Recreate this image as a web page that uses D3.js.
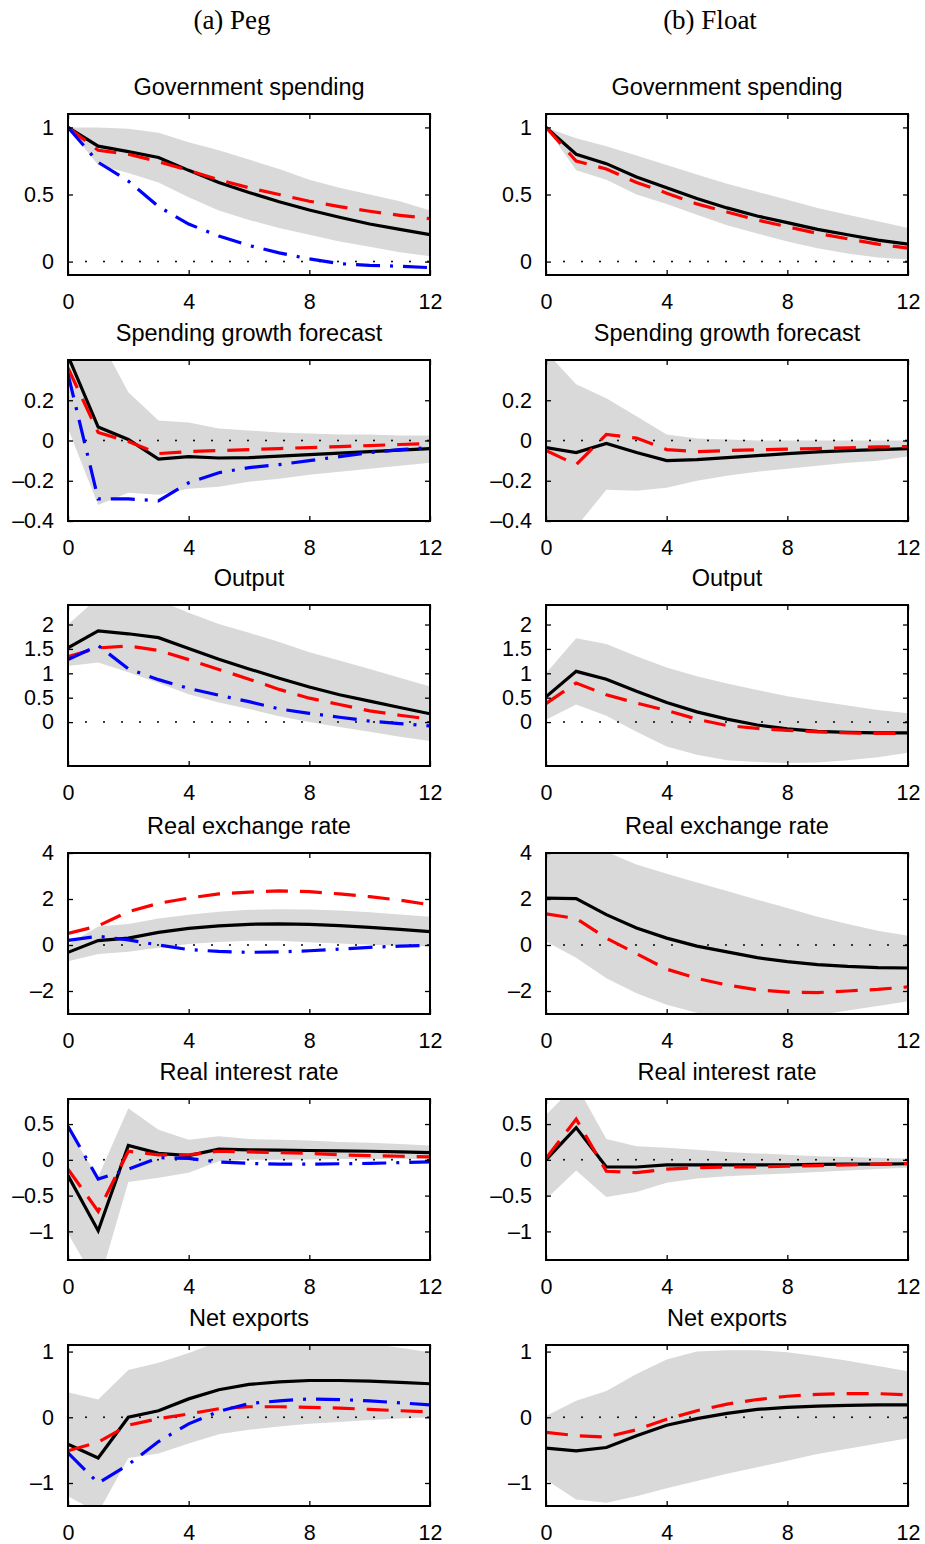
<!DOCTYPE html>
<html>
<head>
<meta charset="utf-8">
<script src="https://cdn.jsdelivr.net/npm/d3@7"></script>
<style>
  body { margin: 0; background: #fff; }
  svg text { font-family: "Liberation Sans", Arial, Helvetica, sans-serif; fill: #000; }
  .col-head { font-family: "Liberation Serif", "Times New Roman", serif; font-size: 27px; }
</style>
</head>
<body>
<svg id="chart" width="925" height="1544"></svg>
<script>
// quarters after the shock
const HORIZON = [0, 1, 2, 3, 4, 5, 6, 7, 8, 9, 10, 11, 12];
const X_TICKS = [0, 4, 8, 12];
const COLUMNS = ["(a) Peg", "(b) Float"];
const TITLES = ["Government spending", "Spending growth forecast", "Output",
  "Real exchange rate", "Real interest rate", "Net exports"];
const Y_TICKS = [[0, 0.5, 1], [-0.4, -0.2, 0, 0.2], [0, 0.5, 1, 1.5, 2],
  [-2, 0, 2, 4], [-1, -0.5, 0, 0.5], [-1, 0, 1]];
const Y_DOMAINS = [[-0.1, 1.1], [-0.4, 0.4], [-0.9, 2.4], [-3, 4], [-1.4, 0.85], [-1.35, 1.1]];

// Government spending
const govPegSolid   = [1.0, 0.86, 0.82, 0.776, 0.68, 0.59, 0.515, 0.446, 0.384, 0.33, 0.28, 0.24, 0.20];
const govPegDashed  = [1.0, 0.83, 0.80, 0.745, 0.68, 0.61, 0.55, 0.50, 0.45, 0.41, 0.375, 0.345, 0.32];
const govPegDashDot = [1.0, 0.74, 0.60, 0.41, 0.28, 0.19, 0.12, 0.065, 0.02, -0.015, -0.028, -0.035, -0.045];
const govPegLower   = [1.0, 0.72, 0.66, 0.59, 0.48, 0.38, 0.31, 0.25, 0.20, 0.15, 0.11, 0.07, 0.04];
const govPegUpper   = [1.0, 1.0, 0.99, 0.96, 0.89, 0.83, 0.76, 0.69, 0.61, 0.55, 0.50, 0.45, 0.38];
const govFloatSolid  = [1.0, 0.80, 0.73, 0.63, 0.55, 0.47, 0.40, 0.34, 0.29, 0.24, 0.20, 0.16, 0.13];
const govFloatDashed = [1.0, 0.75, 0.69, 0.59, 0.51, 0.43, 0.37, 0.31, 0.26, 0.21, 0.17, 0.13, 0.10];
const govFloatLower  = [1.0, 0.68, 0.61, 0.50, 0.43, 0.35, 0.27, 0.21, 0.15, 0.10, 0.06, 0.03, 0.015];
const govFloatUpper  = [1.0, 0.92, 0.86, 0.79, 0.72, 0.65, 0.58, 0.52, 0.46, 0.40, 0.35, 0.30, 0.25];

// Spending growth forecast
const sgfPegSolid   = [0.42, 0.067, 0.005, -0.092, -0.08, -0.087, -0.085, -0.078, -0.07, -0.063, -0.055, -0.048, -0.04];
const sgfPegDashed  = [0.36, 0.04, -0.005, -0.065, -0.055, -0.05, -0.045, -0.04, -0.035, -0.03, -0.025, -0.02, -0.015];
const sgfPegDashDot = [0.33, -0.29, -0.29, -0.30, -0.21, -0.16, -0.135, -0.12, -0.10, -0.08, -0.06, -0.045, -0.035];
const sgfPegLower   = [0.06, -0.32, -0.26, -0.27, -0.24, -0.23, -0.205, -0.19, -0.17, -0.155, -0.14, -0.125, -0.11];
const sgfPegUpper   = [0.6, 0.52, 0.24, 0.10, 0.09, 0.06, 0.05, 0.04, 0.035, 0.03, 0.03, 0.025, 0.025];
const sgfFloatSolid  = [-0.035, -0.06, -0.015, -0.06, -0.10, -0.095, -0.085, -0.075, -0.065, -0.057, -0.05, -0.045, -0.04];
const sgfFloatDashed = [-0.05, -0.12, 0.03, 0.012, -0.045, -0.055, -0.05, -0.046, -0.043, -0.04, -0.036, -0.032, -0.03];
const sgfFloatLower  = [-0.5, -0.43, -0.245, -0.25, -0.235, -0.2, -0.175, -0.155, -0.14, -0.125, -0.11, -0.1, -0.08];
const sgfFloatUpper  = [0.44, 0.28, 0.21, 0.12, 0.03, 0.01, 0.005, 0.0, 0.0, 0.0, 0.0, 0.0, 0.0];

// Output
const outPegSolid   = [1.52, 1.87, 1.81, 1.73, 1.51, 1.29, 1.09, 0.90, 0.72, 0.56, 0.43, 0.30, 0.17];
const outPegDashed  = [1.34, 1.52, 1.56, 1.47, 1.28, 1.08, 0.88, 0.67, 0.49, 0.36, 0.23, 0.14, 0.06];
const outPegDashDot = [1.28, 1.57, 1.09, 0.87, 0.69, 0.55, 0.42, 0.27, 0.18, 0.10, 0.02, -0.03, -0.08];
const outPegLower   = [1.15, 1.22, 1.02, 0.80, 0.57, 0.40, 0.27, 0.12, 0.0, -0.1, -0.2, -0.3, -0.39];
const outPegUpper   = [2.0, 2.55, 2.6, 2.5, 2.24, 2.01, 1.83, 1.64, 1.43, 1.26, 1.09, 0.91, 0.73];
const outFloatSolid  = [0.52, 1.04, 0.88, 0.63, 0.40, 0.21, 0.06, -0.06, -0.14, -0.19, -0.21, -0.22, -0.22];
const outFloatDashed = [0.38, 0.80, 0.56, 0.39, 0.24, 0.06, -0.07, -0.13, -0.17, -0.20, -0.22, -0.23, -0.23];
const outFloatLower  = [0.05, 0.36, 0.13, -0.2, -0.5, -0.67, -0.78, -0.82, -0.84, -0.83, -0.78, -0.72, -0.63];
const outFloatUpper  = [1.0, 1.72, 1.6, 1.35, 1.12, 0.94, 0.79, 0.66, 0.53, 0.43, 0.34, 0.25, 0.18];

// Real exchange rate
const rerPegSolid   = [-0.32, 0.19, 0.30, 0.55, 0.72, 0.83, 0.90, 0.92, 0.90, 0.84, 0.77, 0.68, 0.58];
const rerPegDashed  = [0.5, 0.83, 1.45, 1.81, 2.04, 2.22, 2.30, 2.35, 2.32, 2.22, 2.10, 1.95, 1.75];
const rerPegDashDot = [0.2, 0.38, 0.22, 0.0, -0.2, -0.28, -0.32, -0.30, -0.25, -0.18, -0.10, -0.05, -0.02];
const rerPegLower   = [-0.71, -0.39, -0.29, -0.12, 0.04, 0.13, 0.19, 0.19, 0.12, 0.06, 0.01, -0.03, -0.07];
const rerPegUpper   = [0.02, 0.8, 0.91, 1.15, 1.32, 1.45, 1.53, 1.55, 1.54, 1.5, 1.42, 1.33, 1.23];
const rerFloatSolid  = [2.04, 2.02, 1.32, 0.74, 0.30, -0.05, -0.30, -0.55, -0.72, -0.85, -0.93, -0.98, -1.0];
const rerFloatDashed = [1.35, 1.15, 0.30, -0.38, -1.05, -1.45, -1.74, -1.95, -2.05, -2.07, -2.0, -1.93, -1.82];
const rerFloatLower  = [0.15, -0.55, -1.45, -2.1, -2.6, -2.95, -3.1, -3.15, -3.15, -3.05, -2.85, -2.65, -2.45];
const rerFloatUpper  = [4.5, 4.4, 4.05, 3.5, 3.1, 2.72, 2.35, 1.97, 1.61, 1.23, 0.91, 0.62, 0.4];

// Real interest rate
const rirPegSolid   = [-0.22, -0.99, 0.20, 0.09, 0.06, 0.15, 0.14, 0.135, 0.13, 0.125, 0.12, 0.11, 0.10];
const rirPegDashed  = [-0.13, -0.72, 0.12, 0.07, 0.07, 0.12, 0.11, 0.10, 0.09, 0.07, 0.06, 0.05, 0.04];
const rirPegDashDot = [0.47, -0.27, -0.13, 0.03, 0.02, -0.03, -0.05, -0.06, -0.06, -0.055, -0.05, -0.04, -0.03];
const rirPegLower   = [-1.03, -1.76, -0.31, -0.25, -0.18, -0.02, 0.0, 0.0, 0.005, 0.01, 0.01, 0.01, 0.01];
const rirPegUpper   = [0.42, -0.24, 0.72, 0.42, 0.28, 0.33, 0.29, 0.28, 0.27, 0.25, 0.24, 0.22, 0.20];
const rirFloatSolid  = [0.0, 0.45, -0.10, -0.10, -0.07, -0.07, -0.07, -0.07, -0.07, -0.065, -0.06, -0.06, -0.055];
const rirFloatDashed = [0.02, 0.57, -0.16, -0.18, -0.13, -0.11, -0.10, -0.10, -0.09, -0.08, -0.07, -0.06, -0.05];
const rirFloatLower  = [-0.55, -0.15, -0.52, -0.45, -0.32, -0.26, -0.23, -0.21, -0.19, -0.17, -0.15, -0.13, -0.11];
const rirFloatUpper  = [0.63, 1.05, 0.29, 0.19, 0.17, 0.14, 0.11, 0.09, 0.07, 0.05, 0.04, 0.03, 0.02];

// Net exports
const nxPegSolid   = [-0.41, -0.62, 0.0, 0.10, 0.28, 0.42, 0.50, 0.54, 0.56, 0.56, 0.55, 0.53, 0.51];
const nxPegDashed  = [-0.51, -0.38, -0.12, -0.02, 0.05, 0.13, 0.16, 0.16, 0.15, 0.14, 0.12, 0.10, 0.08];
const nxPegDashDot = [-0.54, -1.0, -0.72, -0.37, -0.10, 0.09, 0.21, 0.25, 0.28, 0.27, 0.25, 0.22, 0.19];
const nxPegLower   = [-1.2, -1.45, -0.62, -0.55, -0.40, -0.26, -0.19, -0.14, -0.10, -0.07, -0.04, -0.02, 0.0];
const nxPegUpper   = [0.38, 0.27, 0.72, 0.83, 0.98, 1.15, 1.2, 1.2, 1.2, 1.17, 1.12, 1.06, 0.99];
const nxFloatSolid  = [-0.47, -0.51, -0.46, -0.28, -0.12, -0.02, 0.06, 0.12, 0.15, 0.17, 0.18, 0.19, 0.19];
const nxFloatDashed = [-0.23, -0.28, -0.30, -0.19, -0.03, 0.10, 0.20, 0.27, 0.32, 0.35, 0.36, 0.36, 0.34];
const nxFloatLower  = [-0.95, -1.25, -1.3, -1.2, -1.08, -0.97, -0.86, -0.76, -0.66, -0.56, -0.48, -0.40, -0.32];
const nxFloatUpper  = [0.02, 0.25, 0.40, 0.66, 0.88, 1.0, 1.02, 1.02, 0.99, 0.93, 0.86, 0.78, 0.70];

const ROWS = [
  [{ solid: govPegSolid, dashed: govPegDashed, dashDot: govPegDashDot, lower: govPegLower, upper: govPegUpper },
   { solid: govFloatSolid, dashed: govFloatDashed, lower: govFloatLower, upper: govFloatUpper }],
  [{ solid: sgfPegSolid, dashed: sgfPegDashed, dashDot: sgfPegDashDot, lower: sgfPegLower, upper: sgfPegUpper },
   { solid: sgfFloatSolid, dashed: sgfFloatDashed, lower: sgfFloatLower, upper: sgfFloatUpper }],
  [{ solid: outPegSolid, dashed: outPegDashed, dashDot: outPegDashDot, lower: outPegLower, upper: outPegUpper },
   { solid: outFloatSolid, dashed: outFloatDashed, lower: outFloatLower, upper: outFloatUpper }],
  [{ solid: rerPegSolid, dashed: rerPegDashed, dashDot: rerPegDashDot, lower: rerPegLower, upper: rerPegUpper },
   { solid: rerFloatSolid, dashed: rerFloatDashed, lower: rerFloatLower, upper: rerFloatUpper }],
  [{ solid: rirPegSolid, dashed: rirPegDashed, dashDot: rirPegDashDot, lower: rirPegLower, upper: rirPegUpper },
   { solid: rirFloatSolid, dashed: rirFloatDashed, lower: rirFloatLower, upper: rirFloatUpper }],
  [{ solid: nxPegSolid, dashed: nxPegDashed, dashDot: nxPegDashDot, lower: nxPegLower, upper: nxPegUpper },
   { solid: nxFloatSolid, dashed: nxFloatDashed, lower: nxFloatLower, upper: nxFloatUpper }]
];

// layout
const COL_LEFT = [68, 546];
const ROW_TOP = [114, 360, 605, 853, 1099, 1345];
const W = 362, H = 161;
const TICK_FONT = 21.5, TITLE_FONT = 23.5;

const svg = d3.select("#chart");
const x = d3.scaleLinear().domain([0, 12]).range([0, W]);
const fmt = d => (d < 0 ? "\u2013" + Math.abs(d) : String(d));

// column headers
COLUMNS.forEach((c, j) => {
  svg.append("text").attr("class", "col-head")
    .attr("x", COL_LEFT[j] + W / 2 - 17)
    .attr("y", 29)
    .attr("text-anchor", "middle")
    .text(c);
});

ROWS.forEach((row, i) => {
  row.forEach((s, j) => {
    const y = d3.scaleLinear().domain(Y_DOMAINS[i]).range([H, 0]);
    const g = svg.append("g").attr("transform", `translate(${COL_LEFT[j]},${ROW_TOP[i]})`);
    const clipId = `clip-${i}-${j}`;
    g.append("clipPath").attr("id", clipId)
      .append("rect").attr("width", W).attr("height", H);

    const plot = g.append("g").attr("clip-path", `url(#${clipId})`);

    // confidence band
    const area = d3.area()
      .x((d, k) => x(HORIZON[k]))
      .y0(d => y(d))
      .y1((d, k) => y(s.upper[k]));
    plot.append("path").datum(s.lower)
      .attr("d", area)
      .attr("fill", "#d9d9d9");

    // zero reference
    plot.append("line")
      .attr("x1", x(0)).attr("x2", x(12))
      .attr("y1", y(0)).attr("y2", y(0))
      .attr("stroke", "#000").attr("stroke-width", 2)
      .attr("stroke-linecap", "round")
      .attr("stroke-dasharray", "0,18");

    const line = d3.line().x((d, k) => x(HORIZON[k])).y(d => y(d));

    plot.append("path").datum(s.solid)
      .attr("d", line).attr("fill", "none")
      .attr("stroke", "#000").attr("stroke-width", 3.2);

    plot.append("path").datum(s.dashed)
      .attr("d", line).attr("fill", "none")
      .attr("stroke", "#ff0000").attr("stroke-width", 3.2)
      .attr("stroke-dasharray", "22,12");

    if (s.dashDot) {
      plot.append("path").datum(s.dashDot)
        .attr("d", line).attr("fill", "none")
        .attr("stroke", "#0000ff").attr("stroke-width", 3.2)
        .attr("stroke-dasharray", "24,10,3,10");
    }

    // axes, ticks pointing in
    const styleAxis = sel => {
      sel.select(".domain").remove();
      sel.selectAll(".tick line").attr("stroke", "#000").attr("stroke-width", 1.3);
      sel.attr("font-size", TICK_FONT).attr("font-family", null);
    };
    g.append("g").attr("transform", `translate(0,${H})`)
      .call(d3.axisBottom(x).tickValues(X_TICKS).tickSize(-5).tickPadding(19).tickFormat(d3.format("d")))
      .call(styleAxis);
    g.append("g")
      .call(d3.axisTop(x).tickValues(X_TICKS).tickSize(-5).tickFormat(""))
      .call(styleAxis);
    g.append("g")
      .call(d3.axisLeft(y).tickValues(Y_TICKS[i]).tickSize(-5).tickPadding(14).tickFormat(fmt))
      .call(styleAxis);
    g.append("g").attr("transform", `translate(${W},0)`)
      .call(d3.axisRight(y).tickValues(Y_TICKS[i]).tickSize(-5).tickFormat(""))
      .call(styleAxis);

    g.append("rect")
      .attr("width", W).attr("height", H)
      .attr("fill", "none").attr("stroke", "#000").attr("stroke-width", 2);

    g.append("text")
      .attr("x", W / 2).attr("y", -19)
      .attr("text-anchor", "middle")
      .attr("font-size", TITLE_FONT)
      .text(TITLES[i]);
  });
});
</script>
</body>
</html>
